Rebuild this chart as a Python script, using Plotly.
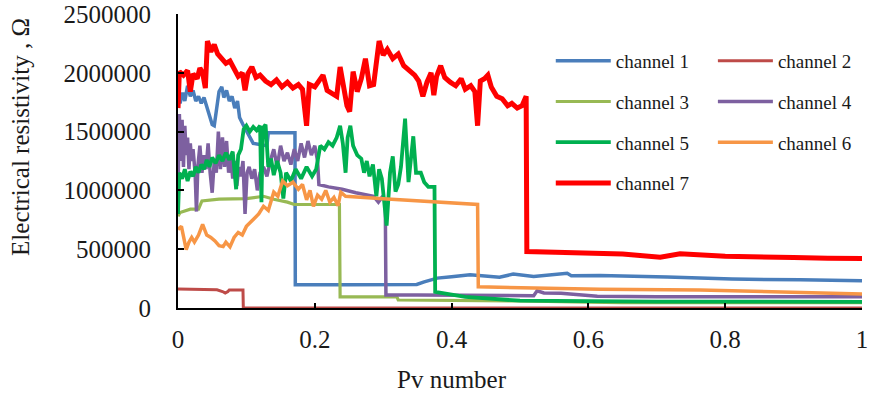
import plotly.graph_objects as go

# ---------------- data ----------------
ch1_x = [0.000, 0.003, 0.007, 0.010, 0.014, 0.018, 0.022, 0.026, 0.030, 0.034, 0.038, 0.042, 0.046, 0.050,
         0.053, 0.056, 0.060, 0.064, 0.067, 0.071, 0.075, 0.079, 0.083, 0.087, 0.090, 0.095, 0.110, 0.130,
         0.132, 0.171, 0.1715, 0.250, 0.300, 0.349, 0.360, 0.379, 0.400, 0.427, 0.470, 0.490, 0.520, 0.569,
         0.575, 0.617, 0.715, 0.810, 0.910, 1.000]
ch1_y = [1800000, 1740000, 1830000, 1760000, 1890000, 1800000, 1850000, 1760000, 1800000, 1740000, 1790000,
         1720000, 1640000, 1560000, 1550000, 1700000, 1840000, 1880000, 1790000, 1850000, 1760000, 1800000,
         1700000, 1760000, 1620000, 1560000, 1400000, 1380000, 1490000, 1490000, 197000, 197000, 197000,
         200000, 222000, 254000, 266000, 282000, 262000, 288000, 268000, 295000, 275000, 277000, 263000,
         246000, 240000, 231000]

ch2_x = [0.000, 0.030, 0.057, 0.065, 0.069, 0.073, 0.075, 0.095, 0.0955, 1.000]
ch2_y = [162000, 160000, 155000, 140000, 128000, 140000, 154000, 154000, 0, 0]

ch3_x = [0.000, 0.003, 0.018, 0.030, 0.035, 0.060, 0.100, 0.125, 0.140, 0.160, 0.170, 0.190, 0.210, 0.236,
         0.237, 0.260, 0.300, 0.320, 0.322, 0.400, 0.500, 0.600, 0.650, 0.800, 1.000]
ch3_y = [780000, 812000, 840000, 840000, 910000, 925000, 930000, 950000, 925000, 900000, 880000, 880000,
         885000, 880000, 94000, 94000, 94000, 94000, 68000, 65000, 60000, 50000, 45000, 45000, 45000]

ch4_x = [0.000, 0.002, 0.004, 0.006, 0.008, 0.010, 0.012, 0.014, 0.016, 0.018, 0.020, 0.022, 0.025, 0.027,
         0.029, 0.032, 0.035, 0.038, 0.041, 0.044, 0.047, 0.050, 0.053, 0.056, 0.059, 0.062, 0.065, 0.068,
         0.071, 0.074, 0.077, 0.080, 0.083, 0.086, 0.089, 0.092, 0.095, 0.098, 0.101, 0.104, 0.108, 0.112,
         0.116, 0.120, 0.125, 0.130, 0.135, 0.140, 0.145, 0.150, 0.155, 0.160, 0.165, 0.170, 0.175, 0.180,
         0.185, 0.190, 0.195, 0.200, 0.204, 0.206, 0.220, 0.240, 0.260, 0.280, 0.286, 0.293, 0.298, 0.303,
         0.304, 0.350, 0.450, 0.520, 0.525, 0.535, 0.560, 0.600, 0.613, 0.700, 0.800, 0.900, 1.000]
ch4_y = [1000000, 1650000, 1250000, 1600000, 1200000, 1550000, 1300000, 1450000, 1180000, 1400000, 1250000,
         1350000, 1150000, 820000, 1200000, 1380000, 1150000, 1300000, 1180000, 1400000, 1150000, 980000,
         1250000, 1150000, 1500000, 1180000, 1450000, 1200000, 1420000, 1150000, 1300000, 1100000, 1250000,
         1040000, 1200000, 1120000, 1250000, 800000, 1150000, 1200000, 1100000, 1180000, 1000000, 1150000,
         1200000, 1120000, 1250000, 1350000, 1200000, 1380000, 1250000, 1320000, 1220000, 1350000, 1250000,
         1400000, 1280000, 1420000, 1300000, 1380000, 1250000, 1050000, 1030000, 1010000, 980000, 960000,
         950000, 900000, 940000, 920000, 111000, 111000, 108000, 105000, 146000, 128000, 125000, 111000,
         100000, 96000, 95000, 96000, 96000]

ch5_x = [0.000, 0.002, 0.006, 0.010, 0.014, 0.018, 0.022, 0.026, 0.030, 0.034, 0.038, 0.042, 0.046, 0.050,
         0.055, 0.060, 0.065, 0.070, 0.075, 0.080, 0.085, 0.088, 0.092, 0.096, 0.100, 0.105, 0.110, 0.115,
         0.120, 0.122, 0.124, 0.128, 0.132, 0.136, 0.140, 0.145, 0.150, 0.154, 0.158, 0.165, 0.172, 0.180,
         0.188, 0.196, 0.202, 0.208, 0.214, 0.220, 0.226, 0.232, 0.237, 0.241, 0.245, 0.248, 0.252, 0.256,
         0.262, 0.268, 0.272, 0.276, 0.280, 0.285, 0.290, 0.294, 0.298, 0.302, 0.305, 0.310, 0.314, 0.318,
         0.322, 0.326, 0.332, 0.337, 0.344, 0.348, 0.355, 0.360, 0.366, 0.375, 0.376, 0.420, 0.500, 0.700,
         1.000]
ch5_y = [800000, 1150000, 1100000, 1180000, 1080000, 1160000, 1120000, 1200000, 1150000, 1220000, 1180000,
         1260000, 1200000, 1280000, 1230000, 1300000, 1250000, 1320000, 1260000, 1330000, 1010000, 1300000,
         1350000, 1520000, 1550000, 1500000, 1540000, 1510000, 1550000, 900000, 1530000, 1560000, 1200000,
         1270000, 1130000, 1250000, 1150000, 930000, 1150000, 1080000, 1180000, 1100000, 1200000, 1120000,
         1180000, 1380000, 1350000, 1410000, 1380000, 1450000, 1550000, 1400000, 1150000, 1450000, 1550000,
         1380000, 1300000, 1270000, 1150000, 1250000, 1120000, 1220000, 950000, 1180000, 1100000, 850000,
         700000, 1150000, 1290000, 990000, 1050000, 1200000, 1610000, 1070000, 1460000, 1150000, 1150000,
         1070000, 1030000, 1030000, 137000, 94000, 62000, 55000, 52000]

ch6_x = [0.000, 0.005, 0.012, 0.016, 0.020, 0.024, 0.030, 0.036, 0.042, 0.048, 0.054, 0.060, 0.066, 0.070,
         0.076, 0.082, 0.088, 0.094, 0.100, 0.110, 0.118, 0.125, 0.132, 0.140, 0.146, 0.153, 0.160, 0.168,
         0.176, 0.182, 0.188, 0.193, 0.198, 0.204, 0.210, 0.216, 0.222, 0.228, 0.234, 0.238, 0.245, 0.300,
         0.350, 0.400, 0.438, 0.439, 0.500, 0.617, 0.763, 0.860, 0.920, 1.000]
ch6_y = [668000, 694000, 497000, 560000, 600000, 560000, 620000, 711000, 620000, 600000, 570000, 530000,
         522000, 560000, 520000, 600000, 642000, 620000, 694000, 754000, 800000, 865000, 830000, 985000,
         950000, 1080000, 1040000, 1070000, 1010000, 1050000, 920000, 1000000, 865000, 960000, 925000,
         1000000, 900000, 940000, 870000, 985000, 950000, 930000, 910000, 890000, 880000, 180000, 171000,
         160000, 154000, 140000, 130000, 120000]

ch7_x = [0.000, 0.002, 0.008, 0.014, 0.018, 0.022, 0.028, 0.032, 0.036, 0.040, 0.043, 0.048, 0.053, 0.058,
         0.064, 0.070, 0.076, 0.082, 0.088, 0.094, 0.098, 0.102, 0.108, 0.114, 0.120, 0.128, 0.136, 0.144,
         0.152, 0.160, 0.168, 0.176, 0.182, 0.188, 0.192, 0.200, 0.206, 0.212, 0.218, 0.226, 0.232, 0.237,
         0.242, 0.247, 0.251, 0.256, 0.262, 0.268, 0.274, 0.280, 0.286, 0.294, 0.300, 0.306, 0.314, 0.322,
         0.330, 0.338, 0.346, 0.352, 0.358, 0.364, 0.370, 0.374, 0.378, 0.384, 0.390, 0.398, 0.406, 0.414,
         0.420, 0.428, 0.434, 0.438, 0.442, 0.448, 0.453, 0.458, 0.466, 0.474, 0.482, 0.488, 0.496, 0.503,
         0.509, 0.510, 0.550, 0.617, 0.650, 0.705, 0.734, 0.800, 0.861, 0.900, 0.950, 1.000]
ch7_y = [1700000, 2010000, 1980000, 2020000, 1840000, 1990000, 1950000, 2040000, 2000000, 1870000, 2270000,
         2180000, 2240000, 2160000, 2120000, 2080000, 2100000, 2030000, 1970000, 2000000, 1850000, 1990000,
         2050000, 1960000, 1980000, 1930000, 1900000, 1940000, 1880000, 1920000, 1870000, 1900000, 1860000,
         1550000, 1900000, 1880000, 1930000, 1980000, 1850000, 1820000, 1800000, 2050000, 1850000, 1720000,
         1670000, 2010000, 1840000, 1950000, 2120000, 1890000, 1900000, 2270000, 2150000, 2200000, 2120000,
         2160000, 2060000, 2020000, 1980000, 1930000, 1800000, 1920000, 2000000, 1810000, 1970000, 2060000,
         1960000, 1920000, 1890000, 1950000, 1860000, 1890000, 1840000, 1550000, 1930000, 1950000, 1980000,
         1880000, 1800000, 1780000, 1720000, 1740000, 1700000, 1720000, 1800000, 480000, 475000, 473000,
         460000, 431000, 462000, 440000, 428000, 430000, 422000, 420000]

names = ["channel 1", "channel 2", "channel 3", "channel 4", "channel 5", "channel 6", "channel 7"]
colors = ["#4A7EBB", "#BE4B48", "#98B954", "#7D60A0", "#00B050", "#F79646", "#FF0000"]
widths = [3.5, 3, 3.2, 3.5, 3.8, 3.5, 5]
legends = ["legend", "legend2", "legend", "legend2", "legend", "legend2", "legend"]

xs = [ch1_x, ch2_x, ch3_x, ch4_x, ch5_x, ch6_x, ch7_x]
ys = [ch1_y, ch2_y, ch3_y, ch4_y, ch5_y, ch6_y, ch7_y]

FONT = "Liberation Serif, Times New Roman, serif"
TXT = "#1a1a1a"

fig = go.Figure()
for i in range(7):
    fig.add_trace(go.Scatter(
        x=xs[i], y=ys[i], mode="lines", name=names[i],
        line=dict(color=colors[i], width=widths[i]),
        legend=legends[i], legendgroup=names[i],
        cliponaxis=False,
    ))

legend_style = dict(xanchor="left", yanchor="top", bgcolor="rgba(0,0,0,0)",
                    font=dict(family=FONT, size=19, color=TXT), tracegroupgap=13, itemwidth=55)

fig.update_layout(
    width=869, height=396,
    margin=dict(l=178, r=7, t=14, b=88, autoexpand=False),
    paper_bgcolor="white", plot_bgcolor="white",
    font=dict(family=FONT, color=TXT),
    showlegend=True,
    legend=dict(x=0.545, y=0.905, **legend_style),
    legend2=dict(x=0.782, y=0.905, **legend_style),
    xaxis=dict(range=[0, 1], tickvals=[0, 0.2, 0.4, 0.6, 0.8, 1], ticktext=["0", "0.2", "0.4", "0.6", "0.8", "1"],
               showgrid=False, zeroline=False, showline=True, linecolor="black", linewidth=2,
               ticks="inside", ticklen=5, tickwidth=2, tickcolor="black",
               tickfont=dict(family=FONT, size=25, color=TXT), ticklabelstandoff=8,
               ticklabeloverflow="allow"),
    yaxis=dict(range=[0, 2500000], tickvals=[0, 500000, 1000000, 1500000, 2000000, 2500000],
               tickformat="d", showgrid=False, zeroline=False, showline=True, linecolor="black", linewidth=2,
               ticks="inside", ticklen=6, tickwidth=2, tickcolor="black",
               tickfont=dict(family=FONT, size=25, color=TXT), ticklabelstandoff=20,
               ticklabeloverflow="allow"),
    annotations=[
        dict(text="Electrical resistivity , Ω", xref="paper", yref="paper", x=-0.2295, y=0.582,
             textangle=-90, showarrow=False, font=dict(family=FONT, size=25, color=TXT),
             xanchor="center", yanchor="middle"),
        dict(text="Pv number", xref="paper", yref="paper", x=0.4006, y=-0.243,
             showarrow=False, font=dict(family=FONT, size=25, color=TXT),
             xanchor="center", yanchor="middle"),
    ],
)

fig.write_html("out.html")
